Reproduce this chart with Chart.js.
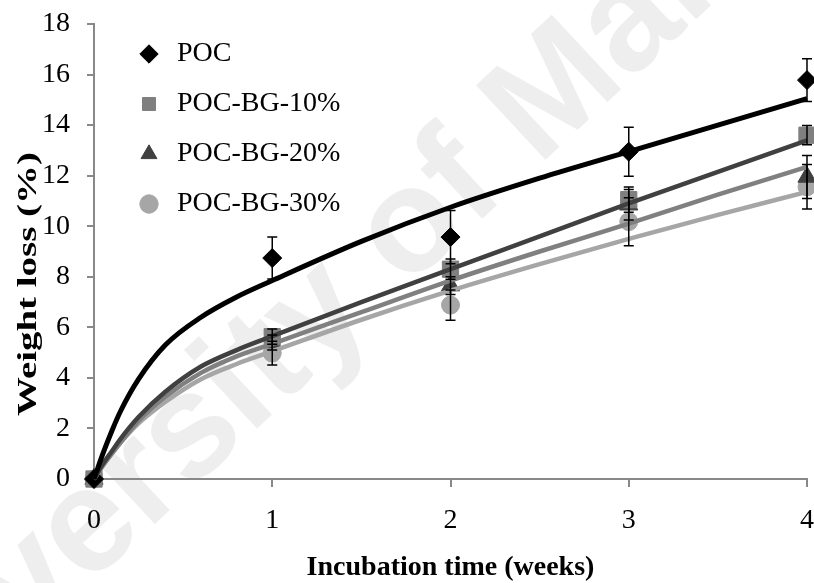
<!DOCTYPE html>
<html lang="en">
<head>
<meta charset="UTF-8">
<title>Weight loss</title>
<script src="https://cdn.jsdelivr.net/npm/chart.js"></script>
<style>
  html, body { margin: 0; padding: 0; background: #fff; }
</style>
</head>
<body>
<canvas id="lossChart" width="814" height="583"></canvas>
<script>
// measured points (mean and +/- error)
var weeks = [0, 1, 2, 3, 4];
var seriesNames = ["POC", "POC-BG-10%", "POC-BG-20%", "POC-BG-30%"];
var pocLoss = [0, 8.74, 9.57, 12.95, 15.78];
var pocErr = [0, 0.83, 1.05, 0.97, 0.85];
var bg10Loss = [0, 5.63, 8.3, 11.05, 13.6];
var bg10Err = [0, 0.3, 0.4, 0.5, 0.38];
var bg20Loss = [0, 5.4, 7.65, 10.85, 11.95];
var bg20Err = [0, 0.3, 0.35, 0.6, 0.85];
var bg30Loss = [0, 4.98, 6.88, 10.18, 11.56];
var bg30Err = [0, 0.47, 0.6, 0.95, 0.88];

// trend curves
var fitWeeks = [0, 0.05, 0.1, 0.15, 0.25, 0.4, 0.6, 0.8, 1, 1.5, 2, 2.5, 3, 3.5, 4];
var pocFit  = [0, 1.0, 1.9, 2.7, 3.95, 5.3, 6.4, 7.2, 7.85, 9.4, 10.75, 11.9, 12.95, 14.0, 15.05];
var bg10Fit = [0, 0.6, 1.1, 1.6, 2.45, 3.45, 4.45, 5.1, 5.65, 7.0, 8.3, 9.6, 10.9, 12.15, 13.4];
var bg20Fit = [0, 0.55, 1.0, 1.45, 2.3, 3.25, 4.2, 4.85, 5.35, 6.6, 7.85, 9.0, 10.1, 11.25, 12.35];
var bg30Fit = [0, 0.52, 1.0, 1.45, 2.2, 3.05, 3.95, 4.55, 5.05, 6.3, 7.45, 8.5, 9.5, 10.45, 11.36];

var xTitle = "Incubation time (weeks)";
var yTitle = "Weight loss (%)";
var watermark = "University of Malaya";

Chart.defaults.font.family = "'Liberation Serif', 'Times New Roman', serif";
Chart.defaults.color = "#000";

function toPoints(xs, ys) {
  return xs.map(function (x, i) { return { x: x, y: ys[i] }; });
}

function markerSet(name, ys, errs, style, color, radius) {
  return {
    label: name,
    data: toPoints(weeks, ys),
    errors: errs,
    showLine: false,
    pointStyle: style,
    pointRadius: radius,
    pointHoverRadius: radius,
    backgroundColor: color,
    borderColor: color,
    borderWidth: 1,
    clip: false,
    order: 1
  };
}

function curveSet(ys, color, width) {
  return {
    label: "fit",
    data: toPoints(fitWeeks, ys),
    showLine: true,
    pointRadius: 0,
    borderColor: color,
    backgroundColor: color,
    borderWidth: width,
    cubicInterpolationMode: "monotone",
    clip: false,
    order: 0
  };
}

var errorBarPlugin = {
  id: "errorBars",
  afterDatasetsDraw: function (chart) {
    var c = chart.ctx, xs = chart.scales.x, ys = chart.scales.y;
    c.save();
    c.strokeStyle = "#000";
    c.lineWidth = 1.5;
    chart.data.datasets.forEach(function (ds) {
      if (!ds.errors) return;
      ds.data.forEach(function (p, i) {
        var e = ds.errors[i];
        if (!e) return;
        var px = xs.getPixelForValue(p.x);
        var top = ys.getPixelForValue(p.y + e);
        var bot = ys.getPixelForValue(p.y - e);
        c.beginPath();
        c.moveTo(px, top); c.lineTo(px, bot);
        c.moveTo(px - 5, top); c.lineTo(px + 5, top);
        c.moveTo(px - 5, bot); c.lineTo(px + 5, bot);
        c.stroke();
      });
    });
    c.restore();
  }
};

// y title is drawn by hand: it is stretched and sits lower than centre
var yTitlePlugin = {
  id: "yTitle",
  afterDraw: function (chart) {
    var c = chart.ctx;
    c.save();
    c.translate(29, 284);
    c.rotate(-Math.PI / 2);
    c.scale(1.39, 1);
    c.font = "bold 28px 'Liberation Serif'";
    c.fillStyle = "#000";
    c.textAlign = "center";
    c.textBaseline = "middle";
    c.fillText(yTitle, 0, 0);
    c.restore();
  }
};

var watermarkPlugin = {
  id: "watermark",
  beforeDraw: function (chart) {
    var c = chart.ctx;
    c.save();
    c.translate(348, 288);
    c.rotate(-43 * Math.PI / 180);
    c.font = "bold 148px 'Liberation Sans'";
    c.fillStyle = "#eeeeee";
    c.textAlign = "center";
    c.textBaseline = "middle";
    c.fillText(watermark, 0, 0);
    c.restore();
  }
};

// legend sits inside the plot, nudge it to the picture's spot
var legendNudge = {
  id: "legendNudge",
  afterLayout: function (chart) {
    if (!chart.legend) return;
    chart.legend.left = chart.chartArea.left + 19;
    chart.legend.top = chart.chartArea.top - 6;
  }
};

var axisGrid = { drawOnChartArea: false, drawTicks: true, color: "#888", lineWidth: 2 };

var ctx = document.getElementById("lossChart").getContext("2d");
var lossChart = new Chart(ctx, {
  type: "scatter",
  data: {
    datasets: [
      markerSet(seriesNames[0], pocLoss, pocErr, "rectRot", "#000000", 9.5),
      markerSet(seriesNames[1], bg10Loss, bg10Err, "rect", "#7f7f7f", 11.5),
      markerSet(seriesNames[2], bg20Loss, bg20Err, "triangle", "#404040", 10.5),
      markerSet(seriesNames[3], bg30Loss, bg30Err, "circle", "#a6a6a6", 9),
      curveSet(pocFit, "#000000", 5),
      curveSet(bg10Fit, "#404040", 4.5),
      curveSet(bg20Fit, "#808080", 4.5),
      curveSet(bg30Fit, "#a6a6a6", 4.5)
    ]
  },
  options: {
    responsive: false,
    animation: false,
    layout: { autoPadding: false, padding: { left: 0, right: 7, top: 24, bottom: 0 } },
    plugins: {
      legend: {
        position: "chartArea",
        align: "start",
        labels: {
          usePointStyle: true,
          boxWidth: 28,
          boxHeight: 13,
          padding: 22,
          font: { size: 28 },
          color: "#000",
          filter: function (item) { return item.datasetIndex < 4; }
        }
      },
      tooltip: { enabled: false }
    },
    scales: {
      x: {
        type: "linear",
        min: 0,
        max: 4,
        ticks: { stepSize: 1, font: { size: 28 }, color: "#000", padding: 17 },
        grid: Object.assign({ tickLength: 8 }, axisGrid),
        border: { color: "#888", width: 2 },
        title: {
          display: true,
          text: xTitle,
          font: { size: 28, weight: "bold", lineHeight: 1.1 },
          color: "#000",
          padding: { top: 0, bottom: 0 }
        },
        afterFit: function (s) { s.height = 104; s.paddingLeft = 0; s.paddingRight = 0; }
      },
      y: {
        min: 0,
        max: 18,
        ticks: { stepSize: 2, font: { size: 28 }, color: "#000", padding: 17 },
        grid: Object.assign({ tickLength: 7 }, axisGrid),
        border: { color: "#888", width: 2 },
        afterFit: function (s) { s.width = 94; s.paddingTop = 0; s.paddingBottom = 0; }
      }
    }
  },
  plugins: [watermarkPlugin, errorBarPlugin, yTitlePlugin, legendNudge]
});
</script>
</body>
</html>
